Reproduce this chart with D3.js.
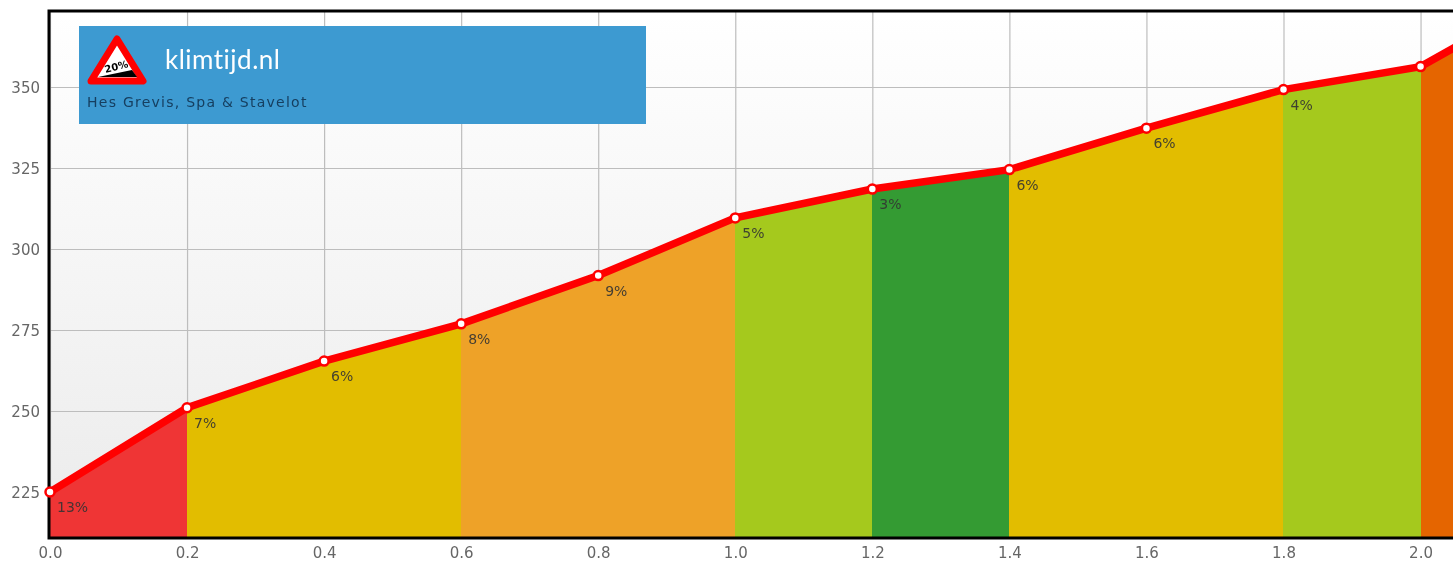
<script src="https://d3js.org/d3.v7.min.js"></script>
<style>
    body { margin: 0; background: #fff; overflow: hidden; }
    svg { display: block; filter: blur(0.45px); }
</style>
<body></body>

<script>
    var width = 1453;
    var height = 563;

    var distances = [0.0, 0.2, 0.4, 0.6, 0.8, 1.0, 1.2, 1.4, 1.6, 1.8, 2.0, 2.2];
    var elevations = [225, 251, 265.4, 276.9, 291.8, 309.6, 318.5, 324.5, 337.3, 349.2, 356.3, 380];
    var grades = [13, 7, 6, 8, 9, 5, 3, 6, 6, 4, 12];
    var xTicks = [0.0, 0.2, 0.4, 0.6, 0.8, 1.0, 1.2, 1.4, 1.6, 1.8, 2.0];
    var yTicks = [225, 250, 275, 300, 325, 350];
    var gradeBreaks = [4, 6, 8, 10, 13];
    var gradeColors = ["#349b33", "#a5c91d", "#e2bd00", "#eea228", "#e56500", "#ef3535"];
    var siteName = "klimtijd.nl";
    var climbName = "Hes Grevis, Spa & Stavelot";

    var left = 49, top_ = 11, bottom = 538;

    var scaleX = d3.scaleLinear().domain([0, 2.2]).range([50, 1557.6]);
    var scaleY = d3.scaleLinear().domain([225, 350]).range([492, 87]);
    var colorScale = d3.scaleThreshold().domain(gradeBreaks).range(gradeColors);

    var svg = d3.select("body")
    .append("svg")
    .attr("width", width)
    .attr("height", height);

    var defs = svg.append("defs");
    var grad = defs.append("linearGradient")
    .attr("id", "bg")
    .attr("x1", 0).attr("y1", 0).attr("x2", 0).attr("y2", 1);
    grad.append("stop").attr("offset", "0%").attr("stop-color", "#ffffff");
    grad.append("stop").attr("offset", "100%").attr("stop-color", "#ebebeb");

    svg.append("rect")
    .attr("x", left)
    .attr("y", top_)
    .attr("width", width - left)
    .attr("height", bottom - top_)
    .attr("fill", "url(#bg)");

    // grid + tick labels
    var xAxis = d3.axisBottom(scaleX)
    .tickValues(xTicks)
    .tickFormat(d3.format(".1f"))
    .tickSize(-(bottom - top_))
    .tickPadding(9);

    var yAxis = d3.axisLeft(scaleY)
    .tickValues(yTicks)
    .tickSize(-(width - left))
    .tickPadding(9);

    var gx = svg.append("g")
    .attr("transform", "translate(0," + bottom + ")")
    .call(xAxis);

    var gy = svg.append("g")
    .attr("transform", "translate(" + left + ",0)")
    .call(yAxis);

    [gx, gy].forEach(function(g){
        g.select(".domain").remove();
        g.selectAll("line").attr("stroke", "#bdbdbd").attr("stroke-width", 1.2);
        g.selectAll("text")
        .attr("fill", "#666")
        .style("font-family", "DejaVu Sans")
        .style("font-size", "15px");
    });
    gy.selectAll("text").attr("dy", "0.39em");

    // coloured slope segments
    var area = d3.area()
    .x(function(d){return scaleX(d.x);})
    .y0(bottom)
    .y1(function(d){return scaleY(d.y);});

    grades.forEach(function(g, i){
        svg.append("path")
        .attr("d", area([
            {x: distances[i], y: elevations[i]},
            {x: distances[i+1], y: elevations[i+1]}
        ]))
        .attr("fill", colorScale(g))
        .attr("shape-rendering", "crispEdges");
    });

    // frame
    svg.append("path")
    .attr("d", "M" + width + "," + top_ + "H" + left + "V" + bottom + "H" + width)
    .attr("fill", "none")
    .attr("stroke", "#000")
    .attr("stroke-width", 3);

    // profile line
    var line = d3.line()
    .x(function(d, i){return scaleX(distances[i]);})
    .y(function(d){return scaleY(d);});

    svg.append("path")
    .attr("d", line(elevations))
    .attr("fill", "none")
    .attr("stroke", "#ff0000")
    .attr("stroke-width", 7.5);

    svg.append("g")
    .selectAll("circle")
    .data(elevations.slice(0, 11))
    .enter()
    .append("circle")
    .attr("cx", function(d, i){return scaleX(distances[i]);})
    .attr("cy", function(d){return scaleY(d);})
    .attr("r", 4.5)
    .attr("fill", "#fff")
    .attr("stroke", "#ff0000")
    .attr("stroke-width", 2.5);

    // grade labels, the last one falls outside the picture
    svg.append("g")
    .selectAll("text")
    .data(grades.slice(0, 10))
    .enter()
    .append("text")
    .attr("x", function(d, i){return scaleX(distances[i]) + 7;})
    .attr("y", function(d, i){return scaleY(elevations[i]) + 20;})
    .text(function(d){return d + "%";})
    .attr("fill", "#333")
    .attr("fill-opacity", 0.9)
    .style("font-family", "DejaVu Sans")
    .style("font-size", "14px");

    // logo box
    var logo = svg.append("g").attr("transform", "translate(79,26)");

    logo.append("rect")
    .attr("width", 567)
    .attr("height", 98)
    .attr("fill", "#3d9ad1");

    logo.append("path")
    .attr("d", "M38,13 L64,55 L12,55 Z")
    .attr("fill", "#fff")
    .attr("stroke", "#ff0000")
    .attr("stroke-width", 7)
    .attr("stroke-linejoin", "round");

    logo.append("path")
    .attr("d", "M19,51 L53,44 L58,51 Z")
    .attr("fill", "#000");

    logo.append("text")
    .attr("x", 38)
    .attr("y", 44)
    .attr("text-anchor", "middle")
    .attr("transform", "rotate(-14 38 44)")
    .text("20%")
    .attr("fill", "#000")
    .style("font-family", "DejaVu Sans")
    .style("font-weight", "bold")
    .style("font-size", "10px");

    logo.append("text")
    .attr("x", 86)
    .attr("y", 43)
    .text(siteName)
    .attr("fill", "#fff")
    .style("font-family", "Lato")
    .style("font-size", "26px")
    .style("font-variant-ligatures", "none")
    .style("letter-spacing", "0.5px");

    logo.append("text")
    .attr("x", 8)
    .attr("y", 81)
    .text(climbName)
    .attr("fill", "#163f60")
    .style("font-family", "DejaVu Sans")
    .style("font-size", "14px")
    .style("letter-spacing", "1.25px");
</script>
